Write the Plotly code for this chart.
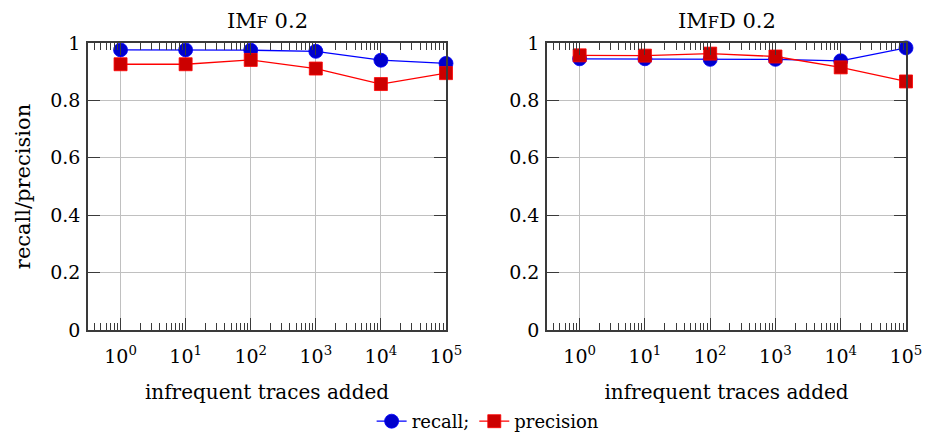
import plotly.graph_objects as go

x_vals = [1, 10, 100, 1000, 10000, 100000]
imf_recall = [0.976, 0.976, 0.975, 0.971, 0.940, 0.929]
imf_precision = [0.926, 0.926, 0.941, 0.911, 0.857, 0.895]
imfd_recall = [0.945, 0.945, 0.943, 0.943, 0.938, 0.983]
imfd_precision = [0.957, 0.956, 0.963, 0.953, 0.915, 0.866]
x_tick_vals = [1, 10, 100, 1000, 10000, 100000]
x_tick_text = ["10<sup>0</sup>", "10<sup>1</sup>", "10<sup>2</sup>", "10<sup>3</sup>", "10<sup>4</sup>", "10<sup>5</sup>"]
y_tick_vals = [0, 0.2, 0.4, 0.6, 0.8, 1.0]
y_tick_text = ["0", "0.2", "0.4", "0.6", "0.8", "1"]

FONT = "DejaVu Serif"
BLUE_LINE = "#0000ff"
BLUE_MARK = "#0000cc"
RED_LINE = "#ff0000"
RED_MARK = "#cc0000"
AXIS = "#3a3a3a"

fig = go.Figure()

def add_series(xa, ya, recall, precision, show):
    fig.add_trace(go.Scatter(
        x=x_vals, y=recall, xaxis=xa, yaxis=ya, mode="lines+markers", name="recall;",
        line=dict(color=BLUE_LINE, width=1.3),
        marker=dict(symbol="circle", size=14, color=BLUE_MARK, line=dict(color=BLUE_LINE, width=0.8)),
        showlegend=show, cliponaxis=False))
    fig.add_trace(go.Scatter(
        x=x_vals, y=precision, xaxis=xa, yaxis=ya, mode="lines+markers", name="precision",
        line=dict(color=RED_LINE, width=1.3),
        marker=dict(symbol="square", size=13, color=RED_MARK, line=dict(color=RED_LINE, width=0.8)),
        showlegend=show, cliponaxis=False))

add_series("x", "y", imf_recall, imf_precision, True)
add_series("x2", "y2", imfd_recall, imfd_precision, False)

W, H = 928, 440
def px_x(p):
    return p / W
def px_y(p):
    return 1 - p / H

xaxis_common = dict(
    type="log", range=[-0.5, 5], tickvals=x_tick_vals, ticktext=x_tick_text,
    ticks="inside", ticklen=12, tickcolor=AXIS, showline=True, linecolor=AXIS, linewidth=1.5,
    mirror="allticks", showgrid=True, gridcolor="#c0c0c0", gridwidth=1, zeroline=False,
    automargin=False, ticklabelstandoff=8,
    tickfont=dict(family=FONT, size=19, color="black"),
    minor=dict(ticks="inside", ticklen=7, tickcolor=AXIS, dtick="D1", showgrid=False),
    title=dict(text="infrequent traces added", font=dict(family=FONT, size=20, color="black"), standoff=19),
)
yaxis_common = dict(
    range=[0, 1], tickvals=y_tick_vals, ticktext=y_tick_text,
    ticks="inside", ticklen=12, tickcolor=AXIS, showline=True, linecolor=AXIS, linewidth=1.5,
    mirror="allticks", showgrid=True, gridcolor="#c0c0c0", gridwidth=1, zeroline=False,
    automargin=False, ticklabelstandoff=2,
    tickfont=dict(family=FONT, size=19, color="black"),
)

fig.update_layout(
    width=W, height=H, margin=dict(l=0, r=0, t=0, b=0),
    plot_bgcolor="white", paper_bgcolor="white",
    font=dict(family=FONT, color="black"),
    xaxis=dict(xaxis_common, domain=[px_x(88), px_x(446)], anchor="y"),
    yaxis=dict(yaxis_common, domain=[px_y(330), px_y(43)], anchor="x",
               title=dict(text="recall/precision", font=dict(family=FONT, size=21, color="black"), standoff=14)),
    xaxis2=dict(xaxis_common, domain=[px_x(547), px_x(906)], anchor="y2"),
    yaxis2=dict(yaxis_common, domain=[px_y(330), px_y(43)], anchor="x2"),
    legend=dict(orientation="h", x=0.526, xanchor="center", y=0, yanchor="bottom",
                font=dict(family=FONT, size=18, color="black"), bgcolor="rgba(0,0,0,0)",
                tracegroupgap=0),
    annotations=[
        dict(text="IM<span style='font-size:16px'>F</span> 0.2", x=(px_x(88) + px_x(446)) / 2, y=px_y(21),
             xref="paper", yref="paper", showarrow=False, font=dict(family=FONT, size=21, color="black"),
             xanchor="center", yanchor="middle"),
        dict(text="IM<span style='font-size:16px'>F</span>D 0.2", x=(px_x(547) + px_x(906)) / 2, y=px_y(21),
             xref="paper", yref="paper", showarrow=False, font=dict(family=FONT, size=21, color="black"),
             xanchor="center", yanchor="middle"),
    ],
)

fig.write_html("out.html")
